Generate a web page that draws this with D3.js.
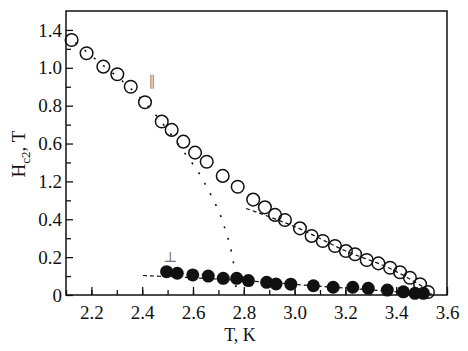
<!DOCTYPE html>
<html>
<head>
<meta charset="utf-8">
<script src="https://cdn.jsdelivr.net/npm/d3@7"></script>
<style>
  html, body { margin: 0; padding: 0; background: #fff; }
  svg { display: block; font-family: "Liberation Serif", "DejaVu Serif", serif; }
</style>
</head>
<body>
<div id="chart"></div>
<script>
// Hc2(T) — open circles: field parallel, filled: perpendicular

// parallel (open circles), [T, Hc2]
const parallelPts = [
  [2.122, 1.347], [2.181, 1.277], [2.247, 1.206], [2.302, 1.166], [2.355, 1.100],
  [2.411, 1.018], [2.477, 0.916], [2.516, 0.872], [2.562, 0.810], [2.608, 0.752],
  [2.654, 0.704], [2.717, 0.629], [2.776, 0.572], [2.837, 0.504], [2.883, 0.463],
  [2.923, 0.423], [2.962, 0.396], [3.021, 0.352], [3.067, 0.312], [3.111, 0.285],
  [3.159, 0.259], [3.202, 0.232], [3.238, 0.215], [3.284, 0.185], [3.330, 0.167],
  [3.376, 0.144], [3.415, 0.120], [3.454, 0.091], [3.494, 0.057], [3.525, 0.016]
];

// perpendicular (filled circles)
const perpPts = [
  [2.496, 0.123], [2.538, 0.115], [2.599, 0.106], [2.660, 0.100], [2.719, 0.088],
  [2.772, 0.088], [2.818, 0.076], [2.890, 0.067], [2.927, 0.058], [2.985, 0.057],
  [3.074, 0.049], [3.152, 0.041], [3.229, 0.041], [3.290, 0.035], [3.365, 0.026],
  [3.428, 0.017], [3.474, 0.009], [3.507, 0.009]
];

// dotted fit curve bending down to T ~ 2.77
const dotCurve = [
  [2.100, 1.373], [2.234, 1.226], [2.352, 1.094], [2.443, 0.967], [2.509, 0.856],
  [2.576, 0.734], [2.616, 0.660], [2.650, 0.581], [2.680, 0.502], [2.706, 0.428],
  [2.726, 0.349], [2.743, 0.275], [2.756, 0.195], [2.765, 0.121], [2.769, 0.042],
  [2.771, 0.000]
];

// dashed fit along the high-T part of the parallel data
const dashPar = [[2.809, 0.457], [3.021, 0.349], [3.202, 0.232], [3.376, 0.140], [3.533, 0.021]];

// dashed fit through the perpendicular data
const dashPerp = [[2.403, 0.103], [2.824, 0.074], [3.139, 0.042], [3.541, 0.005]];

const xTicks = [2.2, 2.4, 2.6, 2.8, 3.0, 3.2, 3.4, 3.6];
const xMinor = d3.range(2.1, 3.6, 0.1);
const yTicks = [0, 0.2, 0.4, 0.6, 0.8, 1.0, 1.2, 1.4];
// labels as printed in the original figure
const yTickLabels = ["0", "0.2", "0.4", "1.2", "0.6", "0.8", "1.0", "1.4"];
const yMinor = d3.range(0.1, 1.5, 0.2);

const width = 468, height = 351;
const margin = { top: 11, right: 21, bottom: 56, left: 66 };
const serif = '"Liberation Serif", "DejaVu Serif", serif';

const svg = d3.select("#chart")
  .append("svg")
  .attr("width", width)
  .attr("height", height);

const x = d3.scaleLinear()
  .domain([2.1, 3.6])
  .range([margin.left, width - margin.right]);

const y = d3.scaleLinear()
  .domain([0, 1.5])
  .range([height - margin.bottom, margin.top]);

const line = d3.line()
  .x(d => x(d[0]))
  .y(d => y(d[1]))
  .curve(d3.curveMonotoneY);

const straight = d3.line()
  .x(d => x(d[0]))
  .y(d => y(d[1]))
  .curve(d3.curveMonotoneX);

// fit lines
svg.append("path")
  .attr("d", line(dotCurve))
  .attr("fill", "none")
  .attr("stroke", "#111")
  .attr("stroke-width", 1.6)
  .attr("stroke-dasharray", "2 10");

svg.append("path")
  .attr("d", straight(dashPar))
  .attr("fill", "none")
  .attr("stroke", "#111")
  .attr("stroke-width", 1.2)
  .attr("stroke-dasharray", "4 3");

svg.append("path")
  .attr("d", straight(dashPerp))
  .attr("fill", "none")
  .attr("stroke", "#111")
  .attr("stroke-width", 1.2)
  .attr("stroke-dasharray", "4 3");

// markers
svg.append("g")
  .selectAll("circle")
  .data(parallelPts)
  .enter()
  .append("circle")
  .attr("cx", d => x(d[0]))
  .attr("cy", d => y(d[1]))
  .attr("r", 6.3)
  .attr("fill", "none")
  .attr("stroke", "#111")
  .attr("stroke-width", 1.5);

svg.append("g")
  .selectAll("circle")
  .data(perpPts)
  .enter()
  .append("circle")
  .attr("cx", d => x(d[0]))
  .attr("cy", d => y(d[1]))
  .attr("r", 6.5)
  .attr("fill", "#111");

// axes, ticks pointing inward
const bottom = height - margin.bottom;

svg.append("g")
  .attr("transform", `translate(0,${bottom})`)
  .call(d3.axisBottom(x).tickValues(xMinor).tickSize(-5).tickFormat(""))
  .call(g => g.select(".domain").remove());

const xAxisG = svg.append("g")
  .attr("transform", `translate(0,${bottom})`)
  .call(d3.axisBottom(x).tickValues(xTicks).tickSize(-8).tickPadding(11).tickFormat(d3.format(".1f")))
  .call(g => g.select(".domain").remove())
  .attr("font-family", null)
  .attr("font-size", null);
xAxisG.selectAll("text")
  .style("font-family", serif)
  .style("font-size", "19px")
  .attr("fill", "#111");

svg.append("g")
  .attr("transform", `translate(${margin.left},0)`)
  .call(d3.axisLeft(y).tickValues(yMinor).tickSize(-5).tickFormat(""))
  .call(g => g.select(".domain").remove());

const yAxisG = svg.append("g")
  .attr("transform", `translate(${margin.left},0)`)
  .call(d3.axisLeft(y).tickValues(yTicks).tickSize(-7).tickPadding(4)
    .tickFormat((d, i) => yTickLabels[i]))
  .call(g => g.select(".domain").remove())
  .attr("font-family", null)
  .attr("font-size", null);
yAxisG.selectAll("text")
  .style("font-family", serif)
  .style("font-size", "19px")
  .attr("fill", "#111");

svg.selectAll(".tick line").attr("stroke", "#111").attr("stroke-width", 1.3);

// frame
svg.append("rect")
  .attr("x", margin.left)
  .attr("y", margin.top)
  .attr("width", width - margin.left - margin.right)
  .attr("height", height - margin.top - margin.bottom)
  .attr("fill", "none")
  .attr("stroke", "#111")
  .attr("stroke-width", 1.5);

// axis titles
const yTitle = svg.append("text")
  .attr("transform", `translate(25,154) rotate(-90)`)
  .attr("text-anchor", "middle")
  .attr("fill", "#111")
  .style("font-size", "19px");
yTitle.append("tspan").text("H");
yTitle.append("tspan").attr("dy", 5).style("font-size", "13px").text("c2");
yTitle.append("tspan").attr("dy", -5).text(", T");

svg.append("text")
  .attr("x", 240)
  .attr("y", 341)
  .attr("text-anchor", "middle")
  .attr("fill", "#111")
  .style("font-size", "18px")
  .text("T, K");

// orientation markers
svg.append("text")
  .attr("x", 152)
  .attr("y", 87)
  .attr("text-anchor", "middle")
  .attr("fill", "#8a8a8a")
  .style("font-size", "15px")
  .text("\u2225");

svg.append("text")
  .attr("x", 170)
  .attr("y", 262)
  .attr("text-anchor", "middle")
  .attr("fill", "#777")
  .style("font-size", "15px")
  .text("\u22A5");
</script>
</body>
</html>
